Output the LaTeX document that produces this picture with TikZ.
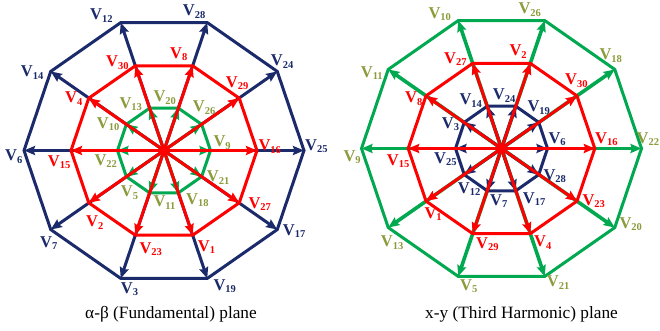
\documentclass[tikz,border=0pt]{standalone}
\usepackage{fontspec}
\setmainfont{Liberation Serif}
\usetikzlibrary{arrows.meta}
\definecolor{navy}{RGB}{27,42,107}
\definecolor{vred}{RGB}{255,0,0}
\definecolor{vgreen}{RGB}{0,168,80}
\definecolor{volive}{RGB}{140,155,60}
\newcommand\Vlab[1]{{\fontsize{16.5}{16.5}\selectfont\bfseries V}\raisebox{-2.5pt}{\fontsize{10.5}{10.5}\selectfont\bfseries #1}}
\tikzset{
  vlab/.style={anchor=base west, inner sep=0pt},
  tipstyle/.style={-{Stealth[length=11pt,width=9pt,inset=1.5pt]}},
  bluearr/.style={draw=navy, line width=3pt, tipstyle},
  redarr/.style={draw=vred, line width=3pt, tipstyle},
  greenarr/.style={draw=vgreen, line width=3pt, tipstyle},
  greenarrw/.style={draw=vgreen, line width=3.6pt, tipstyle},
  poly/.style={line width=3pt, line join=miter},
  caption/.style={anchor=base, inner sep=0pt, font=\fontsize{17.3}{18}\selectfont}
}
\begin{document}
\begin{tikzpicture}[x=1pt,y=-1pt]
\useasboundingbox (0,0) rectangle (660,331);
\fill[white] (0,0) rectangle (660,331);
% centres
\coordinate (LC) at (164,150.5);
\coordinate (RC) at (501.5,148.5);
\foreach \i in {0,...,9}{
  \coordinate (Lb\i) at ({164+140*cos(36*\i)},{150.5-134.5*sin(36*\i)});
  \coordinate (Lr\i) at ({164+93*cos(36*\i)},{150.5-89*sin(36*\i)});
  \coordinate (Lg\i) at ({164+46.5*cos(36*\i)},{150.5-44.5*sin(36*\i)});
  \coordinate (Rg\i) at ({501.5+140*cos(36*\i)},{148.5-134.5*sin(36*\i)});
  \coordinate (Rr\i) at ({501.5+93.3*cos(36*\i)},{148.5-89.5*sin(36*\i)});
  \coordinate (Rb\i) at ({501.5+46*cos(36*\i)},{148.5-44.5*sin(36*\i)});
}
% ---------- left diagram ----------
\foreach \i in {0,...,9}{\draw[bluearr] (LC) -- (Lb\i);}
\draw[poly,navy] (Lb0)--(Lb1)--(Lb2)--(Lb3)--(Lb4)--(Lb5)--(Lb6)--(Lb7)--(Lb8)--(Lb9)--cycle;
\foreach \i in {0,...,9}{\draw[greenarr] (LC) -- (Lg\i);}
\draw[poly,vgreen] (Lg0)--(Lg1)--(Lg2)--(Lg3)--(Lg4)--(Lg5)--(Lg6)--(Lg7)--(Lg8)--(Lg9)--cycle;
\foreach \i in {0,...,9}{\draw[redarr] (LC) -- (Lr\i);}
\draw[poly,vred] (Lr0)--(Lr1)--(Lr2)--(Lr3)--(Lr4)--(Lr5)--(Lr6)--(Lr7)--(Lr8)--(Lr9)--cycle;
% ---------- right diagram ----------
\foreach \i in {0,...,9}{\draw[greenarrw] (RC) -- (Rg\i);}
\draw[poly,vgreen] (Rg0)--(Rg1)--(Rg2)--(Rg3)--(Rg4)--(Rg5)--(Rg6)--(Rg7)--(Rg8)--(Rg9)--cycle;
\foreach \i in {0,...,9}{\draw[bluearr] (RC) -- (Rb\i);}
\draw[poly,navy] (Rb0)--(Rb1)--(Rb2)--(Rb3)--(Rb4)--(Rb5)--(Rb6)--(Rb7)--(Rb8)--(Rb9)--cycle;
\foreach \i in {0,...,9}{\draw[redarr] (RC) -- (Rr\i);}
\draw[poly,vred] (Rr0)--(Rr1)--(Rr2)--(Rr3)--(Rr4)--(Rr5)--(Rr6)--(Rr7)--(Rr8)--(Rr9)--cycle;
% ---------- left labels ----------
\begin{scope}[every node/.style={vlab, text=navy}]
\node (lV25) at (305,150) {\Vlab{25}};
\node (lV24) at (270.7,66) {\Vlab{24}};
\node (lV28) at (182.7,16) {\Vlab{28}};
\node (lV12) at (90,20) {\Vlab{12}};
\node (lV14) at (20.7,77) {\Vlab{14}};
\node (lV6) at (5,160.7) {\Vlab{6}};
\node (lV7) at (40,247.3) {\Vlab{7}};
\node (lV3) at (120.7,293.3) {\Vlab{3}};
\node (lV19) at (213.3,290) {\Vlab{19}};
\node (lV17) at (282.7,235) {\Vlab{17}};
\end{scope}
\begin{scope}[every node/.style={vlab, text=vred}]
\node (lV16) at (258.3,150.7) {\Vlab{16}};
\node (lV29) at (225.7,87.3) {\Vlab{29}};
\node (lV8) at (170,58.3) {\Vlab{8}};
\node (lV30) at (106,66.7) {\Vlab{30}};
\node (lV4) at (65,102.7) {\Vlab{4}};
\node (lV15) at (47.7,166) {\Vlab{15}};
\node (lV2) at (86,226.7) {\Vlab{2}};
\node (lV23) at (139.3,253.3) {\Vlab{23}};
\node (lV1) at (197.7,251) {\Vlab{1}};
\node (lV27) at (248.3,208.3) {\Vlab{27}};
\end{scope}
\begin{scope}[every node/.style={vlab, text=volive}]
\node (lV9) at (213.3,146.7) {\Vlab{9}};
\node (lV26) at (192.7,111.7) {\Vlab{26}};
\node (lV20) at (153.3,101.7) {\Vlab{20}};
\node (lV13) at (119.3,108.3) {\Vlab{13}};
\node (lV10) at (96.7,128.3) {\Vlab{10}};
\node (lV22) at (94.3,165) {\Vlab{22}};
\node (lV5) at (120.7,196.7) {\Vlab{5}};
\node (lV11) at (153.3,206.7) {\Vlab{11}};
\node (lV18) at (186,204.3) {\Vlab{18}};
\node (lV21) at (206.7,181.7) {\Vlab{21}};
\end{scope}
% ---------- right labels ----------
\begin{scope}[every node/.style={vlab, text=volive}]
\node (rV22) at (636.5,143.3) {\Vlab{22}};
\node (rV18) at (599.3,60) {\Vlab{18}};
\node (rV26) at (518.3,14) {\Vlab{26}};
\node (rV10) at (428.3,18.3) {\Vlab{10}};
\node (rV11) at (360.7,77.3) {\Vlab{11}};
\node (rV9) at (343.3,161) {\Vlab{9}};
\node (rV13) at (380.7,246.7) {\Vlab{13}};
\node (rV5) at (460,290) {\Vlab{5}};
\node (rV21) at (546.7,286.7) {\Vlab{21}};
\node (rV20) at (619.3,228.3) {\Vlab{20}};
\end{scope}
\begin{scope}[every node/.style={vlab, text=vred}]
\node (rV16) at (595,143.3) {\Vlab{16}};
\node (rV30) at (565,85) {\Vlab{30}};
\node (rV2) at (509.3,56) {\Vlab{2}};
\node (rV27) at (444,63.3) {\Vlab{27}};
\node (rV8) at (405,102.7) {\Vlab{8}};
\node (rV15) at (386.7,165) {\Vlab{15}};
\node (rV1) at (424.3,218.3) {\Vlab{1}};
\node (rV29) at (476,248.3) {\Vlab{29}};
\node (rV4) at (534,246.7) {\Vlab{4}};
\node (rV23) at (582.3,205) {\Vlab{23}};
\end{scope}
\begin{scope}[every node/.style={vlab, text=navy}]
\node (rV6) at (548.3,143.3) {\Vlab{6}};
\node (rV19) at (527.3,111.7) {\Vlab{19}};
\node (rV24) at (492.7,100) {\Vlab{24}};
\node (rV14) at (459.3,105) {\Vlab{14}};
\node (rV3) at (441.7,128.3) {\Vlab{3}};
\node (rV25) at (434,163.3) {\Vlab{25}};
\node (rV12) at (457.7,193.3) {\Vlab{12}};
\node (rV7) at (490,205) {\Vlab{7}};
\node (rV17) at (522.7,203.3) {\Vlab{17}};
\node (rV28) at (543.3,180) {\Vlab{28}};
\end{scope}
% ---------- captions ----------
\node[caption] (capL) at (171,318) {α-β (Fundamental) plane};
\node[caption] (capR) at (521.5,318) {x-y (Third Harmonic) plane};
\end{tikzpicture}
\end{document}
